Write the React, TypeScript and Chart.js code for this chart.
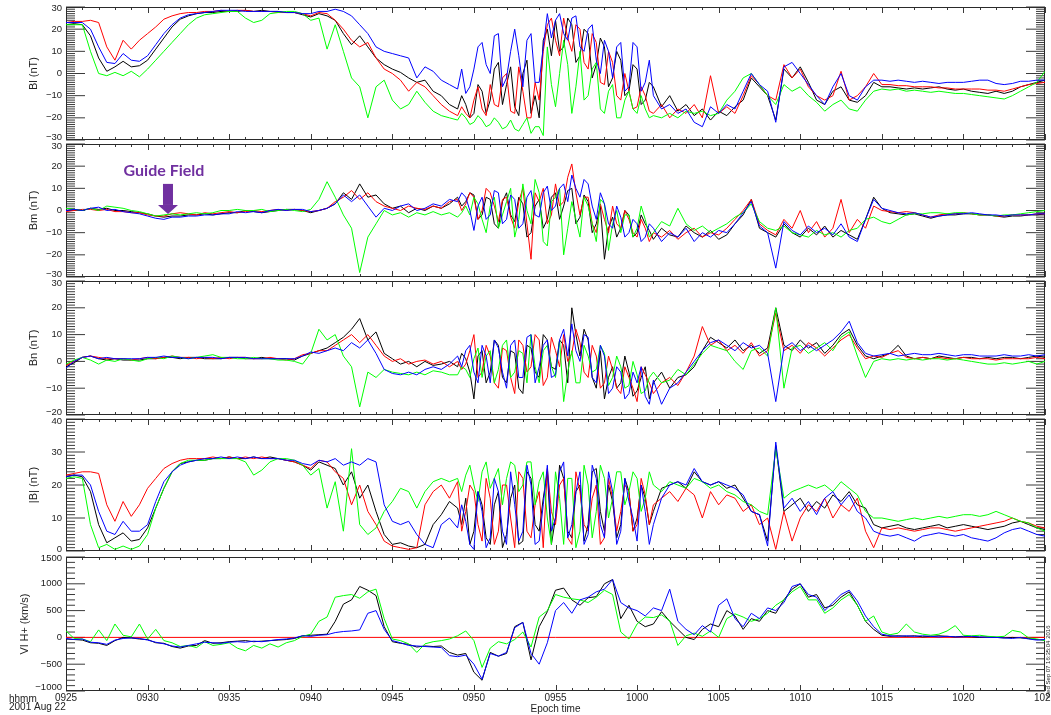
import React, { useEffect, useRef } from 'react';
import { Chart, registerables } from 'chart.js';

Chart.register(...registerables);

// ---------------- data ----------------
const TIME_LABELS = ['0925', '0930', '0935', '0940', '0945', '0950', '0955', '1000', '1005', '1010', '1015', '1020', '1025'];
// sample times, minutes after 09:25
const MINUTES = Array.from({ length: 121 }, (_, i) => i * 0.5);
// extra samples in the turbulent interval 09:49-10:01
const MID_MINUTES = Array.from({ length: 24 }, (_, j) => 24.25 + j * 0.5);

const BL_BLACK = [22, 22.5, 22, 17, 7, 1, 3, 5.5, 3, 3.5,
  6, 11, 16, 21, 24.5, 26, 27, 27.5, 27.5, 28,
  28, 28, 28.5, 28, 28.5, 28, 28, 27.5, 27.5, 26.5,
  25.5, 27, 26, 24, 18, 13, 17, 12, 7, 4,
  2, 0.5, -2, -4, -3, -8, -10, -14, -16, -14,
  -18, -8, -12, 5, -5, -15, 0, -18, -20, 20,
  24, 12, 22, 8, 18, 4, 12, -2, 6, -8,
  2, -12, -6, -15, -10, -17, -14, -19, -16, -21,
  -17, -19, -15, -12, -2, -6, -10, -21, 2, -2,
  3, -4, -12, -14, -8, -6, -12, -13, -10, -4,
  -6, -6, -6.5, -7, -6.5, -7, -6.5, -6, -7, -7.5,
  -7, -8, -8.5, -9, -8, -9, -8, -6, -5, -4,
  -3];
const BL_BLACK_MID = [-10, -20, -5, -18, 2, -14, 3, -19, 6, -10, 15, 8, 10, 25, 5, 20, -2, 16, -6, 10, -10, 4, -14, -4];
const BL_RED = [23, 23.5, 23.5, 24, 23, 12, 6, 15, 11, 15,
  18, 21, 24.5, 26, 27, 27.5, 27.5, 28, 28, 28.5,
  28, 28.5, 28.5, 28, 28, 28, 27.5, 27.5, 27.5, 27,
  26, 27.5, 27, 24, 20, 15, 12, 14, 7, 2,
  0, -3, -8, -4, -6, -10, -14, -17, -19, -18,
  -12, -16, -5, -15, 0, -18, -8, -20, -12, 22,
  15, 25, 10, 20, 2, 14, -5, 5, -12, -8,
  -15, -10, -18, -14, -20, -16, -18, -14, -20, -1,
  -18, -15, -18, -10, -1, -5, -10, -12, 4, -2,
  2, -6, -10, -12, -10, 1, -12, -10, -6, 0,
  -5, -5, -5.5, -5.5, -6, -6, -6, -6.5, -6.5, -7,
  -7, -7, -7, -7.5, -7.5, -8, -7, -6, -5, -4.5,
  -4];
const BL_RED_MID = [-15, -20, -6, -19, -14, -2, -17, 3, -20, -4, 10, 25, 8, 16, 22, 5, 18, -4, 10, -10, 0, -16, -6, -17];
const BL_BLUE = [23, 23, 23, 20, 12, 5, 4.5, 9, 6, 5.5,
  8, 13, 18, 22, 25, 26.5, 27, 27.5, 28, 28.5,
  28.5, 28.5, 28, 28, 28, 28, 28, 27.5, 27.5, 27,
  27, 28, 28, 29, 28, 26, 22, 18, 12, 10,
  9, 8, 7, -2, 3, 1, -3, -5, -7, -9,
  2, 14, 0, 18, -2, 20, -6, 18, -4, 27,
  24, 18, 25, 12, 20, 6, 15, -2, 14, -6,
  12, -4, -10, -16, -14, -18, -16, -22, -24, -15,
  -18, -14, -16, -8, 0, -5, -8, -22, 3, 5,
  0, -5, -10, -14, -6, 0, -10, -12, -6, -3,
  -3, -3.5, -3, -3.5, -4, -3.5, -4, -4.5, -4, -4,
  -4, -3.5, -3, -3, -4.5, -5, -4.5, -3.5, -3.5, -3,
  -3];
const BL_BLUE_MID = [2, -6, 12, 4, 17, -6, 10, 8, 15, -4, 12, 16, 27, 15, 26, 10, 22, 0, 10, 12, -8, 14, -8, 6];
const BL_GREEN = [22, 22, 22, 10, 0, -1, 0.5, -1, 1, -1.5,
  2, 6, 10, 14, 18, 22, 25, 26.5, 27, 27.5,
  28, 28, 25, 23, 24, 27, 27.5, 28, 28, 27,
  24, 25, 11, 22, 10, -2, -6, -20, -6, -3,
  -12, -16, -14, -8, -13, -17, -19, -20, -21, -20,
  -22, -21, -23, -22, -24, -25, -23, -27, -24, 12,
  -15, 15, -18, 10, -10, 5, -18, -5, -20, -8,
  -18, -16, -19, -20, -18, -20, -17, -18, -17, -19,
  -18, -12, -8, -2, 0, -5, -10, -14, -5, -8,
  -6, -10, -13, -17, -14, -12, -16, -17, -12, -8,
  -7, -7.5, -7, -8, -7.5, -8, -8.5, -8, -8.5, -9,
  -9, -9.5, -10, -10.5, -11, -11.5, -10, -8, -6, -4,
  1];
const BL_GREEN_MID = [-18, -23, -19, -24, -20, -25, -21, -26, -20, -24, -28, -5, 0, 4, -6, -12, 2, -16, -8, -20, -12, -16, -10, -20];

const BM_BLACK = [0, 0.5, 0, 1, 0.5, 1, 0, 0, -0.5, -1,
  -1.5, -2.5, -3, -2.5, -2.5, -2, -2, -1.5, -2, -1.5,
  -1, -1, 0, -0.5, -1, -0.5, 0, 0.5, 0.5, 0,
  -1, 0, 1, 3, 8, 5, 12, 6, 7, 3,
  1, 2, -1, 1, 0, 2, 1, 3, 6, 4,
  7, -2, 5, -8, 8, -5, 3, -10, 5, -4,
  8, 2, 10, -3, 4, -6, -22, -3, -8, -2,
  -10, -6, -13, -8, -11, -12, -7, -10, -12, -9,
  -13, -11, -6, -2, 5, -8, -10, -12, -6, -10,
  -12, -8, -11, -7, -12, -9, -11, -13, -4, 6,
  1, -1, -1.5, -2, -1.5, -2.5, -3.5, -2.5, -2, -2,
  -1.5, -1.5, -2, -2, -2.5, -3, -2.5, -2.5, -2, -2,
  -1.5];
const BM_BLACK_MID = [2, 8, -4, 6, -6, 4, -2, 6, -12, 2, -8, 6, -4, 9, -6, 7, -10, 2, -8, -12, 0, -12, -2, -9];
const BM_RED = [-0.5, 0, 0.5, 0.5, 0, 0.5, -0.5, -0.5, -1, -1,
  -2, -2.5, -2.5, -1.5, -1, -1.5, -2, -1, -1.5, -1,
  -0.5, -1, -0.5, 0, -0.5, 0, 0.5, 0, 0.5, 0,
  -0.5, 0, 1, 4, 6, 9, 5, 8, 4, 2,
  1, 0, 2, 1, 0.5, 2, 1, 4, 5, 3,
  6, 0, 8, -5, 6, -8, 10, -22, 4, -6,
  12, 4, 21, -2, 6, -10, -4, 2, -8, -4,
  -12, -8, -10, -12, -9, -13, -10, -8, -12, -10,
  -11, -8, -4, 0, 5, -6, -9, -11, -4, -8,
  0, -10, -5, -12, -8, 5, -10, -4, -8, 2,
  0, -0.5, -1, -0.5, -1, -2, -3, -2, -1.5, -1.5,
  -1, -1.5, -2, -2, -2.5, -2.5, -2, -2, -2, -1.5,
  -1.5];
const BM_RED_MID = [0, 8, -4, 10, 2, 5, -3, 4, -6, 8, 10, -2, 2, 15, 8, 6, -6, 3, -10, -6, 0, -10, -4, -14];
const BM_BLUE = [0, 0.5, 0, 1, 1.5, 0, 0.5, -0.5, -1, -1.5,
  -2.5, -3.5, -4, -3, -3, -2.5, -2.5, -2, -2, -1.5,
  -1.5, -0.5, -1, -0.5, -1, 0, 0.5, 0, 0.5, 0.5,
  -0.5, 0, 1, 3, 7, 4, 7, 2, -3, 1,
  0, 2, 3, 0, 1, 3, 2, 5, 4, 6,
  -9, 6, -2, 8, -4, 5, -6, 9, -3, 11,
  2, 12, 16, 6, 12, -4, 3, -8, -3, -10,
  -6, -12, -8, -14, -10, -12, -8, -14, -10, -12,
  -9, -10, -6, -1, 4, -7, -10, -26, -5, -9,
  -11, -7, -10, -8, -11, -6, -12, -14, -4, 5,
  1, 0, -1, -1.5, -1, -2, -3, -2.5, -2, -1.5,
  -1.5, -1, -1.5, -2, -2, -2.5, -2, -2, -2, -1.5,
  -1.5];
const BM_BLUE_MID = [8, 0, 2, -4, 9, -6, 7, -8, 6, -2, 8, 0, 10, 4, 10, 14, 2, 8, -6, 2, -12, -4, -14, -6];
const BM_GREEN = [1, 0.5, 0, 1, 0, 2, 1.5, 1, 0, -0.5,
  -1.5, -2.5, -2, -1.5, -2, -1.5, -1, -1.5, -1, 0,
  0, 0.5, 0, 0, 0.5, -0.5, 0, 0.5, 0, -0.5,
  0.5, 5, 13, 6, -2, -8, -28, -12, -6, 0,
  -2, -1, -3, -1, -2, -0.5, -2, -1, -3, 2,
  6, -4, 2, -8, 4, -12, 12, -6, 8, -16,
  6, -20, 4, -12, 2, -14, 3, -6, -10, -2,
  -8, -4, -10, -5, -7, 1, -6, -9, -7, -10,
  -8, -6, -3, -1, 3, -5, -8, -9, -7, -10,
  -11, -12, -9, -11, -10, -12, -9, -8, -4, -3,
  -5, -6, -4, -2, -1.5, -1.5, -1, -1, -1.5, -1,
  -1, -1.5, -2, -2, -2.5, -2, -2, -1.5, -1, -0.5,
  0];
const BM_GREEN_MID = [-1, -2, 3, -10, 6, -2, 10, -4, 0, 14, -14, 4, 10, -8, -4, 6, -6, 5, -18, 0, -2, -12, 2, -12];

const BN_BLACK = [-2, -0.5, 1.5, 2, 1, 0.5, 1, 0.5, 0.5, 0.5,
  1, 1, 1.5, 1.5, 1, 1.5, 1.5, 1, 1, 1,
  1.5, 1.5, 1, 1, 1.5, 1, 1, 1, 0.5, 2,
  3, 4, 5, 7, 9, 12, 16, 8, 11, 3,
  1, -1, 0, -2, 0, -1.5, -1, 0, -2, 1,
  -14, 4, -4, 6, -8, 3, -12, 5, -6, 8,
  -3, 6, 20, 2, 8, -10, -14, -2, -8, -4,
  -11, -2, -8, -4, -10, -6, -5, -2, 4, 9,
  7, 5, 8, 4, 6, 3, 5, 20, 6, 4,
  8, 5, 7, 3, 6, 10, 12, 6, 2, 1,
  2, 3, 6, 2, 1, 1.5, 1, 2, 1.5, 1,
  1.5, 1.5, 1, 1.5, 1, 1.5, 1.5, 1, 1.5, 2,
  1.5];
const BN_BLACK_MID = [3, -4, 2, -8, 8, -6, 4, -10, 6, -4, 10, -2, 8, -8, 10, 12, -6, 4, -6, -10, 2, -13, -6, -14];
const BN_RED = [-1.5, 0, 1.5, 2, 1.5, 1, 1, 1, 0.5, 1,
  1.5, 1, 1.5, 2, 1.5, 1.5, 1, 1.5, 1, 1.5,
  1, 1.5, 1.5, 1, 1, 1.5, 1, 0.5, 1, 2.5,
  3, 4, 4, 6, 8, 10, 7, 10, 6, 2,
  0, 1, -1, 0, 0.5, -1, 0, -2, 0, -1,
  10, -4, 2, -10, 4, -12, 6, -2, 8, -6,
  4, 10, 3, 7, -6, 2, -8, -3, -12, -6,
  -15, -5, -12, -8, -6, -9, -4, 2, 13, 6,
  8, 4, 6, 3, 7, 2, 4, 18, 4, 6,
  3, 7, 5, 2, 5, 8, 10, 5, 1, 2,
  1.5, 3, 4, 1.5, 1, 1.5, 1, 1.5, 1, 1,
  1.5, 1, 1, 1, 0.5, 1, 1, 1, 1, 1.5,
  1];
const BN_RED_MID = [-3, 4, -6, 6, -8, 5, -6, 8, -4, 10, -9, 9, -2, 0, 12, -4, 6, -10, 2, -10, -2, -10, -2, -8];
const BN_BLUE = [-2.5, 0, 1.5, 2, 1, 1.5, 1, 1, 1, 1,
  1.5, 1.5, 2, 1.5, 1.5, 1, 1.5, 1.5, 1.5, 1,
  1.5, 1.5, 1.5, 1, 1, 1, 1, 1, 1, 2,
  3.5, 3, 4, 5, 4, 7, 5, 8, 3, -3,
  -4.5, -5, -4, -5, -3, -2, -3, -1, 2, 4,
  -4, 6, -8, 5, -10, 8, -6, 10, -2, 8,
  -5, 12, 14, 0, 9, -8, 2, -10, -4, -12,
  -8, -13, -7, -16, -10, -8, -4, 0, 4, 7,
  8, 6, 4, 7, 5, 6, 3, -15, 5, 7,
  4, 6, 4, 6, 8, 11, 15, 7, 3, 2,
  2.5, 3, 2, 2.5, 3, 2.5, 2.5, 3, 2.5, 2,
  2.5, 2.5, 2, 2, 2, 2.5, 2, 2, 2.5, 2,
  2.5];
const BN_BLUE_MID = [-2, 6, -8, 2, 8, -4, 6, -6, 9, -8, 6, -6, 8, 2, 4, 10, -6, 6, -12, -2, -14, -4, -2, -16];
const BN_GREEN = [-1, 0.5, 1.5, 0.5, -1, 0.5, 0, 1, 0.5, 0,
  1, 1.5, 1, 2, 1.5, 1, 1.5, 2, 2.5, 1.5,
  1.5, 1, 1, 1.5, 1, 1, 0.5, 0.5, 0, -1,
  3, 12, 8, 10, 2, -2, -17, -4, -6, -3,
  -4, -4.5, -5, -4, -5, -3.5, -4, -5, -5, -3,
  1, -6, 4, -3, 8, -4, 3, 10, -8, 6,
  -6, -15, 4, -8, 2, -3, 3, -6, -2, -9,
  -5, -11, -4, -8, -7, -3, -5, -1, 3, 6,
  5, 4, 0, -3, 4, 5, 2, 20, -10, 5,
  6, 3, 5, 7, 4, 9, 11, 2, -6, 0,
  1, 0.5, 1, 0.5, 1, 0.5, 1, 1, 0.5, 1,
  0.5, 0, -0.5, -1, -1, -0.5, -1, -0.5, 0, -1,
  0];
const BN_GREEN_MID = [-2, -6, 5, 2, -8, 6, -6, 4, -8, -2, 4, -2, 8, -4, -8, 6, -4, 6, -9, 2, -10, 0, -12, -6];

const BT_BLACK = [22.5, 23, 22.5, 18, 8, 2.5, 4, 5.5, 3, 3.5,
  7, 13, 19, 24, 26.5, 27, 27.5, 27.5, 28, 28,
  28.5, 28, 28, 28.5, 28, 28.5, 28, 27.5, 27, 26,
  24.5, 27, 26, 25, 20, 24, 16, 20, 12, 5,
  2, 2.5, 1.5, 1, 2, 8, 11, 15, 13, 16,
  6, 14, 2, 18, 5, 20, 3, 22, 6, 24,
  10, 22, 4, 20, 8, 25, 6, 15, 8, 18,
  10, 16, 12, 19, 20, 21, 19, 24, 21, 20,
  21, 19, 20, 16, 12, 11, 3, 32, 12, 14,
  16, 12, 15, 13, 17, 15, 18, 14, 13, 8,
  7, 7.5, 8, 7, 6.5, 7, 7.5, 8, 7, 7.5,
  8, 7.5, 7, 6.5, 7, 7.5, 8.5, 9, 8, 7,
  6.5];
const BT_BLACK_MID = [8, 2, 18, 4, 14, 1, 16, 2, 24, 8, 16, 2, 26, 6, 18, 3, 24, 12, 20, 4, 22, 6, 20, 8];
const BT_RED = [23, 23.5, 24, 24, 23.5, 14, 9, 15, 10.5, 14,
  19, 22, 25, 26.5, 27.5, 28, 28, 28, 28.5, 28,
  28.5, 28, 28.5, 28, 28.5, 28, 28, 27.5, 27, 26,
  25, 27.5, 27, 24, 22, 14, 20, 12, 8, 3,
  1.5, 1, 0.5, 1, 14, 18, 20, 16, 21, 12,
  18, 3, 16, 6, 20, 1, 22, 4, 18, 25,
  8, 22, 2, 18, 6, 20, 4, 16, 12, 18,
  8, 17, 14, 16, 18, 15, 19, 17, 10, 18,
  14, 17, 16, 12, 14, 8, 10, 0.5, 12, 3,
  10, 14, 12, 16, 10, 14, 12, 16, 6, 1,
  7, 6.5, 7, 6.5, 6, 6.5, 7, 7, 6.5, 6,
  6.5, 7, 7.5, 8, 8.5, 9, 10, 9, 8.5, 7.5,
  7];
const BT_RED_MID = [6, 20, 8, 22, 2, 20, 10, 24, 6, 14, 1, 12, 20, 4, 24, 8, 16, 2, 22, 6, 20, 6, 22, 8];
const BT_BLUE = [22.5, 23, 23, 20, 12, 6, 5, 9, 6, 6,
  8, 15, 21, 24, 26, 27, 27.5, 28, 28, 28.5,
  28, 28.5, 28, 28.5, 28, 28, 28, 27.5, 27.5, 26.5,
  26, 27.5, 27, 28, 26, 27, 26, 28, 27, 14,
  9, 8, 9, 5, 2, 1, 8, 10, 7, 9,
  0.5, 12, 4, 18, 2, 14, 6, 20, 3, 26,
  10, 27, 8, 24, 5, 22, 4, 18, 6, 15,
  3, 12, 8, 16, 20, 21, 20, 25, 21, 20,
  21, 20, 19, 17, 12, 11, 1.5, 33, 13, 16,
  12, 15, 11, 16, 18, 14, 17, 12, 10, 6,
  5, 4.5, 5, 4, 3, 4.5, 5, 5.5, 5, 4.5,
  5, 4, 3.5, 3, 4, 5.5, 6.5, 7, 6, 5,
  4.5];
const BT_BLUE_MID = [14, 2, 18, 1, 22, 6, 24, 3, 26, 2, 14, 6, 24, 4, 18, 2, 26, 8, 24, 2, 22, 10, 20, 2];
const BT_GREEN = [22, 22.5, 22, 8, 1, 2, 0.5, 1.5, 0.5, 1.5,
  5, 13, 19, 24, 26.5, 27.5, 27.5, 27.5, 28, 28,
  28, 28, 27, 23, 24.5, 27, 28, 28, 27.5, 26,
  23, 25, 13, 21, 6, 31, 8, 5, 7, 12,
  15, 19, 18, 13, 18, 21, 22, 21, 22, 23,
  20, 24, 19, 25, 22, 26, 20, 27, 21, 10,
  24, 2, 22, 6, 20, 12, 22, 16, 24, 18,
  22, 16, 20, 18, 21, 20, 19, 22, 21, 19,
  20, 18, 17, 15, 14, 12, 11, 31, 16, 18,
  19, 20, 19, 20, 18, 21, 19, 17, 12, 10,
  10, 9.5, 9, 9.5, 10, 9.5, 10, 10.5, 10, 10.5,
  11, 11, 10.5, 11, 12, 11, 10, 9, 8.5, 7,
  6];
const BT_GREEN_MID = [18, 26, 15, 27, 22, 14, 27, 18, 27, 14, 24, 2, 16, 22, 1, 26, 4, 26, 10, 24, 14, 24, 12, 24];

const VL_BLACK = [-30, -40, -50, -100, -110, -150, -60, 0, -10, -30,
  -40, -100, -110, -170, -200, -160, -150, -60, -110, -100,
  -80, -70, -60, -80, -70, -60, -50, -40, -20, 30,
  40, 50, 60, 300, 620, 700, 950, 880, 780, 200,
  -80, -110, -130, -180, -160, -170, -160, -280, -330, -300,
  -650, -800, -280, -350, -300, 200, 280, -420, 200, 480,
  880, 920, 700, 600, 740, 760, 1000, 1080, 350, 600,
  300, 200, 250, 480, 300, 150, 0, -40, 150, 250,
  200, 500, 400, 150, 350, 300, 500, 450, 700, 900,
  1000, 750, 800, 550, 600, 750, 850, 600, 300, 150,
  40, 20, 30, 20, 30, 10, 20, 30, 20, 10,
  20, 10, 0, 10, 0, -10, 0, -10, -20, -40,
  -50];
const VL_BLUE = [-20, -40, -30, -90, -100, -130, -50, -20, -10, -20,
  -50, -90, -120, -160, -180, -150, -120, -90, -100, -110,
  -90, -80, -90, -70, -80, -60, -40, -30, -10, 30,
  20, 40, 50, 90, 110, 120, 140, 450, 500, 150,
  -60, -100, -150, -160, -170, -180, -190, -340, -360, -330,
  -500, -780, -300, -350, -280, 180, 280, -300, -500, -100,
  500, 650, 450, 700, 750, 850, 900, 1080, 650, 550,
  500, 400, 550, 500, 900, 300, 150, 50, 220, 100,
  600, 720, 350, 200, 450, 350, 550, 500, 650, 950,
  1000, 800, 750, 500, 650, 800, 880, 680, 400, 200,
  60, 30, 20, 30, 20, 30, 20, 10, 20, 10,
  10, 20, 10, 0, 0, -10, -20, 0, -30, -50,
  -40];
const VL_GREEN = [120, -20, -30, -80, 140, -60, 250, 40, 10, 250,
  -30, 150, -60, -100, -170, -150, -190, -80, -150, -130,
  -100, -200, -250, -150, -200, -120, -180, -100, -60, 20,
  60, 300, 380, 750, 780, 800, 730, 850, 900, 350,
  -30, -60, -120, -280, -120, -80, -60, -30, 30, 120,
  -60, -560, -200, -80, -120, -40, 100, -180, 380, 500,
  800, 750, 720, 700, 650, 750, 880, 800, 100, -30,
  250, 380, 370, 420, 310, -150, 30, 80, 20, 120,
  0, 350, 440, 380, 300, 350, 450, 600, 700, 850,
  950, 700, 700, 450, 550, 700, 800, 600, 300, 400,
  100, 50, 80, 250, 100, 60, 40, 60, 120, 220,
  40, 30, 40, 20, 10, 20, 130, 100, -10, -30,
  -60];

const ZERO_T = [0, 60];
const ZERO_V = [0, 0];

// ---------------- layout / style ----------------
const W = 1051;
const H = 715;
const PLOT_LEFT = 66;
const PLOT_RIGHT = 1045;
const PAD = 7;
const X_AXIS_H = 24;
const FONT = "'Liberation Sans', Arial, Helvetica, sans-serif";
const INK = '#222222';
const COLORS: Record<string, string> = { black: '#000000', red: '#ff0000', green: '#00ff00', blue: '#0000ff' };

const GUIDE = { t: 6.25, textDx: -4, textY: 17.8, arrowTop: 12, arrowBase: 2.5, arrowTip: -1.6 };

type Series = [string, number[], number[] | null];
type Panel = {
  title: string; min: number; max: number; major: number; minor: number;
  top: number; bottom: number; titleX: number; topShift: number; bottomShift: number;
  series: Series[]; zero?: boolean; guide?: boolean;
};

const PANELS: Panel[] = [
  { title: 'Bl (nT)', min: -30, max: 30, major: 10, minor: 1, top: 7, bottom: 140, titleX: 34, topShift: 1, bottomShift: -3,
    series: [['blue', BL_BLUE, BL_BLUE_MID], ['green', BL_GREEN, BL_GREEN_MID], ['red', BL_RED, BL_RED_MID], ['black', BL_BLACK, BL_BLACK_MID]] },
  { title: 'Bm (nT)', min: -30, max: 30, major: 10, minor: 1, top: 144, bottom: 277, titleX: 34, topShift: 2, bottomShift: -3, guide: true,
    series: [['blue', BM_BLUE, BM_BLUE_MID], ['green', BM_GREEN, BM_GREEN_MID], ['red', BM_RED, BM_RED_MID], ['black', BM_BLACK, BM_BLACK_MID]] },
  { title: 'Bn (nT)', min: -20, max: 30, major: 10, minor: 1, top: 281, bottom: 415, titleX: 34, topShift: 2, bottomShift: -3,
    series: [['blue', BN_BLUE, BN_BLUE_MID], ['green', BN_GREEN, BN_GREEN_MID], ['red', BN_RED, BN_RED_MID], ['black', BN_BLACK, BN_BLACK_MID]] },
  { title: '|B| (nT)', min: 0, max: 40, major: 10, minor: 1, top: 419, bottom: 551, titleX: 34, topShift: 2, bottomShift: -2,
    series: [['blue', BT_BLUE, BT_BLUE_MID], ['green', BT_GREEN, BT_GREEN_MID], ['red', BT_RED, BT_RED_MID], ['black', BT_BLACK, BT_BLACK_MID]] },
  { title: 'Vl H+ (km/s)', min: -1000, max: 1500, major: 500, minor: 100, top: 557, bottom: 691, titleX: 25, topShift: 1, bottomShift: -4, zero: true,
    series: [['blue', VL_BLUE, null], ['green', VL_GREEN, null], ['black', VL_BLACK, null]] },
];

function fmtY(v: number) {
  return v < 0 ? '\u2212' + Math.abs(v) : String(v);
}

function buildPoints(vals: number[], mid: number[] | null) {
  const pts = MINUTES.map((t, k) => ({ x: t, y: vals[k] }));
  if (mid) mid.forEach((v, j) => pts.push({ x: MID_MINUTES[j], y: v }));
  pts.sort((a, b) => a.x - b.x);
  return pts;
}

function makeFramePlugin(p: Panel, isLast: boolean) {
  return {
    id: 'idlFrame',
    beforeDatasetsDraw(chart: any) {
      const { ctx, chartArea } = chart;
      const { left, right, top, bottom } = chartArea;
      const xs = chart.scales.x;
      const ys = chart.scales.y;
      ctx.save();
      ctx.lineWidth = 1;
      ctx.strokeStyle = '#3a3a3a';
      ctx.beginPath();
      const nMinor = Math.round((p.max - p.min) / p.minor);
      const ratio = Math.round(p.major / p.minor);
      for (let k = 0; k <= nMinor; k++) {
        const v = p.min + k * p.minor;
        const y = ys.getPixelForValue(v);
        const len = k % ratio === 0 ? 19 : 9;
        ctx.moveTo(left, y); ctx.lineTo(left + len, y);
        ctx.moveTo(right, y); ctx.lineTo(right - len, y);
      }
      for (let m = 0; m <= 60; m++) {
        const x = Math.round(xs.getPixelForValue(m)) + 0.5;
        const len = m % 5 === 0 ? 6 : 3;
        ctx.moveTo(x, top); ctx.lineTo(x, top + len);
        ctx.moveTo(x, bottom); ctx.lineTo(x, bottom - len);
      }
      ctx.stroke();
      ctx.strokeStyle = '#2a2a2a';
      ctx.strokeRect(left + 0.5, top + 0.5, right - left - 1, bottom - top - 1);

      // y tick labels (IDL nudges the end labels inside the axis span)
      ctx.fillStyle = INK;
      ctx.font = `9.5px ${FONT}`;
      ctx.textAlign = 'right';
      ctx.textBaseline = 'middle';
      for (const tk of ys.ticks) {
        let y = ys.getPixelForValue(tk.value);
        if (tk.value === p.max) y += p.topShift;
        if (tk.value === p.min) y += p.bottomShift;
        ctx.fillText(fmtY(tk.value), left - 4, y);
      }
      ctx.restore();
    },
    afterDatasetsDraw(chart: any) {
      const { ctx } = chart;
      const xs = chart.scales.x;
      const ys = chart.scales.y;
      ctx.save();
      if (p.guide) {
        const x = xs.getPixelForValue(GUIDE.t);
        const yText = ys.getPixelForValue(GUIDE.textY);
        const yTop = ys.getPixelForValue(GUIDE.arrowTop);
        const yBase = ys.getPixelForValue(GUIDE.arrowBase);
        const yTip = ys.getPixelForValue(GUIDE.arrowTip);
        ctx.fillStyle = '#7030a0';
        ctx.font = "bold 16px Lato, 'Open Sans', sans-serif";
        ctx.textAlign = 'center';
        ctx.textBaseline = 'middle';
        ctx.fillText('Guide Field', x + GUIDE.textDx, yText);
        ctx.fillRect(x - 5, yTop, 10, yBase - yTop);
        ctx.beginPath();
        ctx.moveTo(x - 10, yBase);
        ctx.lineTo(x + 10, yBase);
        ctx.lineTo(x, yTip);
        ctx.closePath();
        ctx.fill();
      }
      if (isLast) {
        const canvasTop = p.top - PAD;
        ctx.fillStyle = INK;
        ctx.font = `10px ${FONT}`;
        ctx.textAlign = 'left';
        ctx.textBaseline = 'middle';
        ctx.fillText('hhmm', 9, 699 - canvasTop);
        ctx.fillText('2001 Aug 22', 9, 707 - canvasTop);
        ctx.translate(1048, 662 - canvasTop);
        ctx.rotate(-Math.PI / 2);
        ctx.font = `6px ${FONT}`;
        ctx.textAlign = 'center';
        ctx.fillText('Wed Sep 07 16:35:04 2016', 0, 0);
      }
      ctx.restore();
    },
  };
}

function makeChart(canvas: HTMLCanvasElement, p: Panel, isLast: boolean) {
  const datasets: any[] = p.series.map(([name, vals, mid]) => ({
    label: name,
    data: buildPoints(vals, mid),
    borderColor: COLORS[name],
    borderWidth: 1,
    pointRadius: 0,
    tension: 0,
    fill: false,
  }));
  if (p.zero) {
    datasets.push({
      label: 'zero',
      data: ZERO_T.map((t, k) => ({ x: t, y: ZERO_V[k] })),
      borderColor: '#ff0000',
      borderWidth: 1,
      pointRadius: 0,
      fill: false,
    });
  }
  return new Chart(canvas, {
    type: 'line',
    data: { datasets },
    options: {
      animation: false,
      responsive: false,
      maintainAspectRatio: false,
      devicePixelRatio: 1,
      events: [],
      layout: { padding: { left: 0, right: W - PLOT_RIGHT, top: PAD, bottom: isLast ? 0 : PAD } },
      plugins: { legend: { display: false }, tooltip: { enabled: false } },
      scales: {
        x: {
          type: 'linear',
          min: 0,
          max: 60,
          display: isLast,
          position: 'bottom',
          afterFit: (s: any) => { s.height = isLast ? X_AXIS_H : 0; s.paddingLeft = 0; s.paddingRight = 0; },
          grid: { display: false, drawTicks: false },
          border: { display: false },
          ticks: {
            stepSize: 5, autoSkip: false, maxRotation: 0, minRotation: 0, padding: 1,
            color: INK, font: { family: FONT, size: 10 },
            callback: (v: any) => TIME_LABELS[Math.round(Number(v) / 5)] ?? '',
          },
          title: { display: true, text: 'Epoch time', color: INK, font: { family: FONT, size: 10 }, padding: { top: 0, bottom: 0 } },
        },
        y: {
          type: 'linear',
          min: p.min,
          max: p.max,
          afterFit: (s: any) => { s.width = PLOT_LEFT; s.paddingTop = 0; s.paddingBottom = 0; },
          grid: { display: false, drawTicks: false },
          border: { display: false },
          ticks: { stepSize: p.major, autoSkip: false, display: false },
          title: { display: true, text: p.title, color: INK, font: { family: FONT, size: 11 }, padding: { top: p.titleX - 6.6, bottom: 0 } },
        },
      },
    } as any,
    plugins: [makeFramePlugin(p, isLast)],
  });
}

export default function App() {
  const refs = useRef<(HTMLCanvasElement | null)[]>([]);
  useEffect(() => {
    const charts = PANELS.map((p, i) => makeChart(refs.current[i] as HTMLCanvasElement, p, i === PANELS.length - 1));
    return () => charts.forEach((c) => c.destroy());
  }, []);
  return (
    <div style={{ position: 'fixed', left: 0, top: 0, width: W, height: H, background: '#ffffff', overflow: 'hidden' }}>
      {PANELS.map((p, i) => {
        const isLast = i === PANELS.length - 1;
        const ct = p.top - PAD;
        const ch = (isLast ? H : p.bottom + PAD) - ct;
        return (
          <canvas
            key={i}
            ref={(el) => { refs.current[i] = el; }}
            width={W}
            height={ch}
            style={{ position: 'absolute', left: 0, top: ct, width: W, height: ch }}
          />
        );
      })}
    </div>
  );
}
